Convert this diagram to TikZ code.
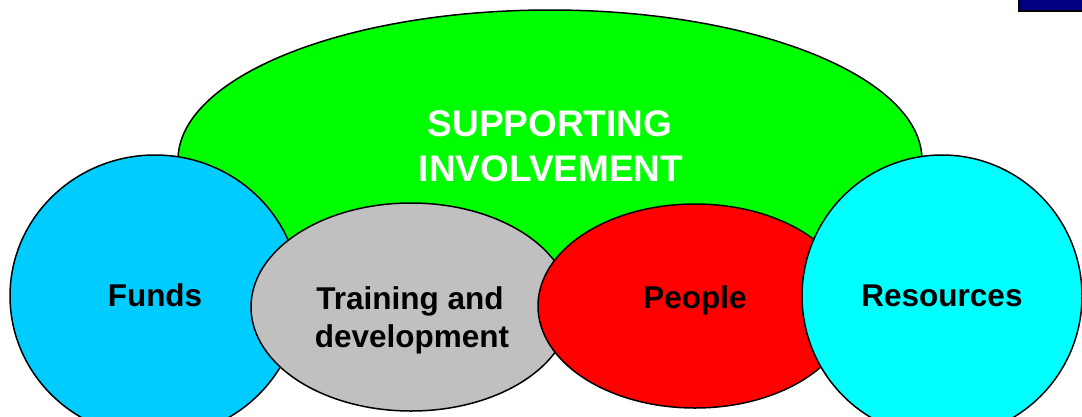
\documentclass[tikz,border=0pt]{standalone}
\usepackage{fontspec}
\setmainfont{Liberation Sans}
\usetikzlibrary{shapes.geometric}
\definecolor{supgreen}{HTML}{00FF00}
\definecolor{fundblue}{HTML}{00CCFF}
\definecolor{rescyan}{HTML}{00FFFF}
\definecolor{traingray}{HTML}{C0C0C0}
\definecolor{peoplered}{HTML}{FF0000}
\definecolor{tabnavy}{HTML}{000080}
\begin{document}
\begin{tikzpicture}[x=1pt,y=-1pt,
  blob/.style={ellipse, draw=black, line width=1.5pt, inner sep=0pt, outer sep=0pt},
  lbl/.style={font=\fontsize{31.5}{38}\selectfont\bfseries, anchor=base, inner sep=0pt},
  title/.style={font=\fontsize{37}{45}\selectfont\bfseries, anchor=base, inner sep=0pt, text=white}]
\useasboundingbox (0,0) rectangle (1082,416);
\clip (0,0) rectangle (1082,416);
% corner tab
\draw[fill=tabnavy, line width=1.2pt] (1019,-5) rectangle (1090,11);
% central theme
\node[blob, fill=supgreen, minimum width=744pt, minimum height=300pt] (support) at (550,160) {};
% surrounding elements, later ones drawn on top
\node[blob, fill=fundblue, minimum width=290pt, minimum height=282pt] (funds) at (155,296) {};
\node[blob, fill=traingray, minimum width=320pt, minimum height=208pt] (training) at (411,307) {};
\node[blob, fill=peoplered, minimum width=314pt, minimum height=204pt] (people) at (695,306) {};
\node[blob, fill=rescyan, minimum width=280pt, minimum height=282pt] (resources) at (942,296) {};
% labels
\node[title] (sup1) at (550,136.5) {SUPPORTING};
\node[title] (sup2) at (551,181.5) {INVOLVEMENT};
\node[lbl] (fundstxt) at (155,306) {Funds};
\node[lbl] (train1) at (410,309) {Training and};
\node[lbl] (train2) at (412,347) {development};
\node[lbl] (peopletxt) at (695,308.5) {People};
\node[lbl] (restxt) at (942,306) {Resources};
\end{tikzpicture}
\end{document}
